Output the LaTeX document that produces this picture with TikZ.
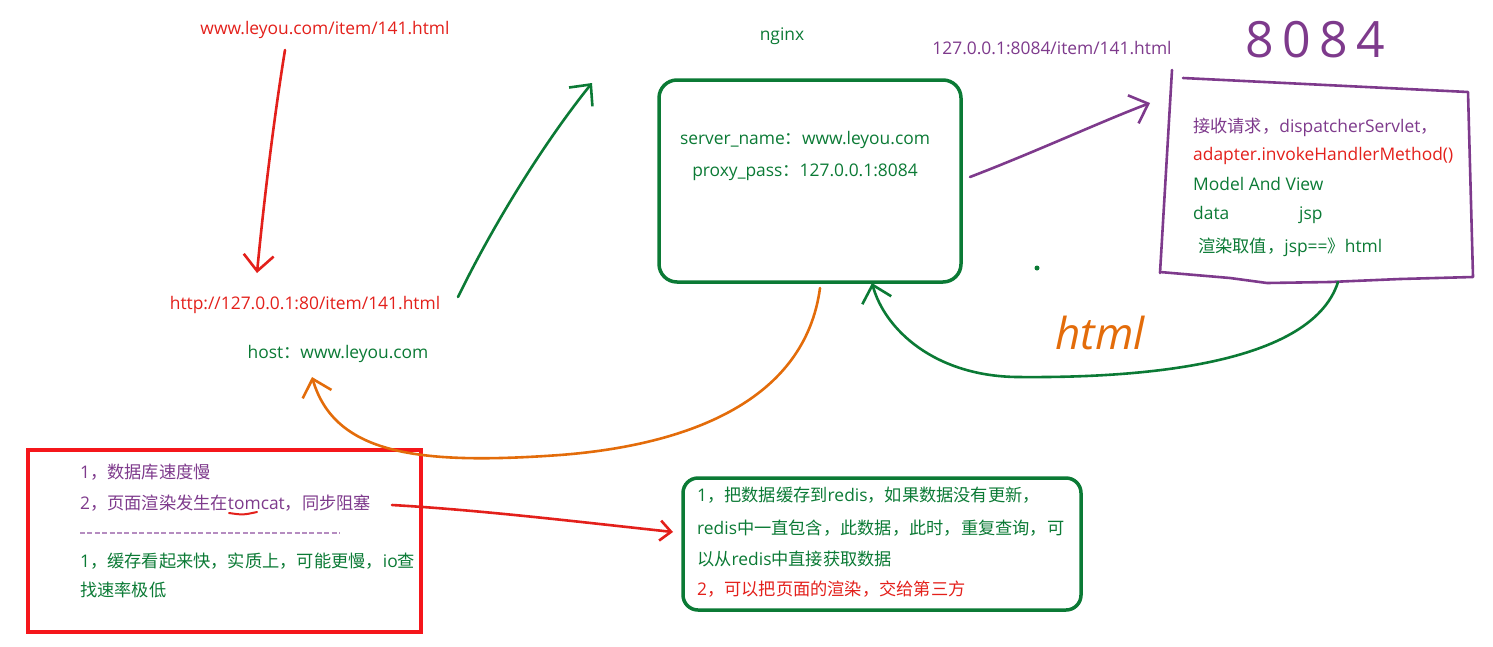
\documentclass[tikz,border=0pt]{standalone}
\usepackage{fontspec}
\setmainfont{Open Sans}
\newfontfamily\cjk[Scale=0.99]{Noto Sans CJK SC}
\usetikzlibrary{arrows.meta}

\definecolor{inkred}{HTML}{E3201B}
\definecolor{inkgreen}{HTML}{0B7A35}
\definecolor{inkpurple}{HTML}{7E3A8C}
\definecolor{inkorange}{HTML}{E36C0A}
\definecolor{boxred}{HTML}{F5161B}
\definecolor{dashpurple}{HTML}{B58CC0}

\newcommand{\zh}[1]{{\cjk #1}}

\begin{document}
\begin{tikzpicture}[
    x=1pt, y=-1pt,
    > = {Straight Barb[length=16pt,width=30pt]}, % hand drawn head
    txt/.style={font=\fontsize{17.4}{20}\selectfont, inner sep=0pt,
      text height=12pt, text depth=3.5pt},
    ink/.style={line width=2.6pt, line cap=round, line join=round},
    frame/.style={draw, line width=3.5pt, rounded corners=18pt, inner sep=0pt}
  ]
  \useasboundingbox (0,0) rectangle (1493,646);

  % Urls
  \node[txt, text=inkred] (url) at (325,30) {www.leyou.com/item/141.html};
  \node[txt, text=inkred] (local) at (305,305) {http://127.0.0.1:80/item/141.html};
  \node[txt, text=inkgreen] (host) at (338,354) {host\zh{：}www.leyou.com};
  \node[txt, text=inkgreen] (nglabel) at (782,36) {nginx};
  \node[txt, text=inkpurple] (porturl) at (1052,50) {127.0.0.1:8084/item/141.html};

  % nginx box
  \node[frame, draw=inkgreen, minimum width=302pt, minimum height=202pt] (nginx) at (810,181) {};
  \node[txt, text=inkgreen] (srvname) at (805,140) {server\_name\zh{：}www.leyou.com};
  \node[txt, text=inkgreen] (proxy) at (805,172) {proxy\_pass\zh{：}127.0.0.1:8084};

  % tomcat 8084
  \node[text=inkpurple, font=\fontsize{50}{50}\selectfont, inner sep=0pt] (port) at (1315,40) {8\,0\,8\,4};
  \draw[ink, inkpurple] (1172,70) -- (1160,273);
  \draw[ink, inkpurple] (1183,78) -- (1468,92) -- (1473,277) -- (1400,279)
    -- (1330,282) -- (1267,283) -- (1230,278) -- (1160,272);
  \node[txt, anchor=west, text=inkpurple] (recv) at (1193,128) {\zh{接收请求，}dispatcherServlet\zh{，}};
  \node[txt, anchor=west, text=inkred] (adapter) at (1193,156) {adapter.invokeHandlerMethod()};
  \node[txt, anchor=west, text=inkgreen] (mav) at (1193,186) {Model And View};
  \node[txt, anchor=west, text=inkgreen] (data) at (1193,215) {data};
  \node[txt, anchor=west, text=inkgreen] (jsp) at (1299,215) {jsp};
  \node[txt, anchor=west, text=inkgreen] (render) at (1198,248) {\zh{渲染取值，}jsp==\zh{》}html};

  \node[text=inkorange, font=\fontsize{44}{44}\selectfont\itshape, inner sep=0pt] (htmlnote) at (1100,333) {html};
  \fill[inkgreen] (1037,268) circle (2.5);

  % problems box
  \node[draw=boxred, line width=4.5pt, minimum width=393pt, minimum height=182pt, inner sep=0pt] (slow) at (224.5,541) {};
  \node[txt, anchor=west, text=inkpurple] (slow1) at (80,474) {1\zh{，数据库速度慢}};
  \node[txt, anchor=west, text=inkpurple] (slow2) at (80,505) {2\zh{，页面渲染发生在}tomcat\zh{，同步阻塞}};
  \draw[dashpurple, line width=1.2pt, dash pattern=on 5pt off 2.4pt] (80,533) -- (340,533);
  \node[txt, anchor=west, text=inkgreen] (slow3) at (80,563) {1\zh{，缓存看起来快，实质上，可能更慢，}io\zh{查}};
  \node[txt, anchor=west, text=inkgreen] (slow4) at (80,592) {\zh{找速率极低}};
  \draw[inkred, line width=2pt, line cap=round] (229,513) .. controls (243,515) .. (257,512);

  % solution box
  \node[frame, draw=inkgreen, rounded corners=15pt, minimum width=398pt, minimum height=132pt] (cache) at (882,544) {};
  \node[txt, anchor=west, text=inkgreen] (cache1) at (697,497) {1\zh{，把数据缓存到}redis\zh{，如果数据没有更新，}};
  \node[txt, anchor=west, text=inkgreen] (cache2) at (697,530) {redis\zh{中一直包含，此数据，此时，重复查询，可}};
  \node[txt, anchor=west, text=inkgreen] (cache3) at (697,561) {\zh{以从}redis\zh{中直接获取数据}};
  \node[txt, anchor=west, text=inkred] (cache4) at (697,591) {2\zh{，可以把页面的渲染，交给第三方}};

  % Arrow ends
  \coordinate (a1) at (285,50);   \coordinate (a2) at (257,273);
  \coordinate (b1) at (458,297);  \coordinate (b2) at (592,83);
  \coordinate (c1) at (970,177);  \coordinate (c2) at (1150,103);
  \coordinate (d1) at (1338,282); \coordinate (d2) at (872,283);
  \coordinate (e1) at (820,288);  \coordinate (e2) at (312,377);
  \coordinate (f1) at (392,505);  \coordinate (f2) at (673,532);

  % Arrows
  \draw[ink, inkred, ->] (a1) .. controls (272,130) and (262,220) .. (a2);
  \draw[ink, inkgreen, ->] (b1) .. controls (498,215) and (550,135) .. (b2);
  \draw[ink, inkpurple, ->] (c1) .. controls (1040,150) and (1100,122) .. (c2);
  \draw[ink, inkgreen, ->] (d1) .. controls (1310,370) and (1120,378) .. (1017,377)
    .. controls (935,376) and (885,330) .. (d2);
  \draw[ink, inkorange, ->] (e1) .. controls (805,400) and (690,445) .. (560,455)
    .. controls (420,465) and (335,455) .. (e2);
  \draw[ink, inkred, -{Straight Barb[length=11pt,width=20pt]}] (f1) .. controls (480,510) and (580,522) .. (f2);
\end{tikzpicture}
\end{document}
